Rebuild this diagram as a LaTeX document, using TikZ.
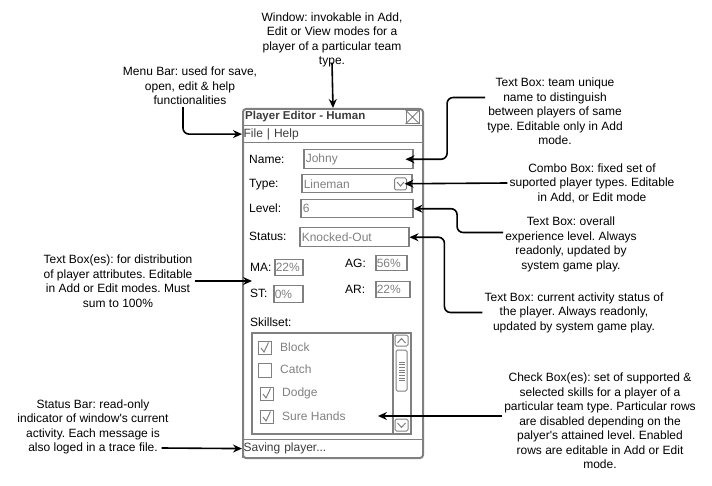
\documentclass[tikz,border=0pt]{standalone}
\usepackage{fontspec}
\setmainfont{Liberation Sans}
\usetikzlibrary{arrows.meta, positioning}
\definecolor{wgray}{RGB}{128,128,128}
\definecolor{wdark}{RGB}{60,60,60}
\frenchspacing
\tikzstyle{note} = [align=center, font=\fontsize{12}{14.5}\selectfont, inner sep=2pt]
\tikzstyle{field} = [rectangle, draw=wgray, line width=1.5pt, anchor=north west, align=left, text=wgray, inner sep=2pt, font=\fontsize{12}{14}\selectfont]
\tikzstyle{btn} = [rectangle, rounded corners=1.5pt, draw=wgray, line width=1pt, inner sep=0pt]
\tikzstyle{tick} = [rectangle, draw=wgray, line width=1pt, inner sep=0pt, anchor=north west, minimum size=13pt]
\tikzstyle{wlabel} = [anchor=west, inner sep=0pt, font=\fontsize{12}{14}\selectfont]
\tikzstyle{arrow} = [line width=1.6pt, ->, >={Stealth[length=9pt, width=8pt, inset=3pt]}]

\begin{document}
\begin{tikzpicture}[x=1pt, y=-1pt]
\useasboundingbox (0,0) rectangle (712,486);

% window frame
\node (win) [rectangle, rounded corners=3pt, draw=wgray, line width=2pt, anchor=north west,
  minimum width=180pt, minimum height=349pt, inner sep=0pt] at (242,108) {};
\node (title) [wlabel, font=\fontsize{11.5}{14}\selectfont\bfseries, text=wdark] at (245,116.5) {Player Editor - Human};
\node (closebtn) [btn, rounded corners=0pt, minimum size=13pt] at (412.5,117) {};
\draw [wgray, line width=1pt] (closebtn.north west) -- (closebtn.south east)
  (closebtn.north east) -- (closebtn.south west);
\node (menu) [field, line width=1.2pt, text=wdark, inner sep=1pt, text width=178pt, minimum height=17pt] at (242,125) {File | Help};

% fields
\node (namelab) [wlabel] at (249,159) {Name:};
\node (namebox) [field, text width=105pt, minimum height=19pt] at (303,149) {Johny};
\node (typelab) [wlabel] at (249,184.5) {Type:};
\node (typebox) [field, text width=106pt, minimum height=18pt] at (301,174) {Lineman};
\node (typedrop) [btn, minimum size=12pt] at (400.5,184) {};
\draw [wgray, line width=1pt] (397,182) -- (400.5,186) -- (404,182);
\node (levellab) [wlabel] at (249,208.5) {Level:};
\node (levelbox) [field, text width=108pt, minimum height=18pt] at (300,199) {6};
\node (statuslab) [wlabel] at (249,236.5) {Status:};
\node (statusbox) [field, text width=105pt, minimum height=19pt] at (299,227) {Knocked-Out};

% attributes
\node (malab) [wlabel] at (250,267.5) {MA:};
\node (mabox) [field, inner sep=1pt, text width=26pt, minimum height=16pt] at (274,259) {22\%};
\node (aglab) [wlabel] at (345,263.5) {AG:};
\node (agbox) [field, inner sep=1pt, text width=29pt, minimum height=15pt] at (375,255) {56\%};
\node (stlab) [wlabel] at (250,293.5) {ST:};
\node (stbox) [field, inner sep=1pt, text width=27pt, minimum height=17pt] at (273,285) {0\%};
\node (arlab) [wlabel] at (345,289.5) {AR:};
\node (arbox) [field, inner sep=1pt, text width=32pt, minimum height=16pt] at (375,281) {22\%};

% skill list
\node (skilllab) [wlabel] at (250,322.5) {Skillset:};
\node (skillbox) [field, text width=155pt, minimum height=101pt] at (251,332) {};
\draw [wgray, line width=1.2pt] (393,332) -- (393,433);
\node (scrup) [btn, minimum width=13pt, minimum height=11pt] at (401.5,340.5) {};
\draw [wgray, line width=1pt] (397.5,343) -- (401.5,338.5) -- (405.5,343);
\node (scrthumb) [btn, minimum width=11pt, minimum height=41pt] at (401.5,370.5) {};
\draw [wgray, line width=0.9pt] (398.5,362) -- (404.5,362) (398.5,364.7) -- (404.5,364.7)
  (398.5,367.4) -- (404.5,367.4) (398.5,370.1) -- (404.5,370.1) (398.5,372.8) -- (404.5,372.8)
  (398.5,375.5) -- (404.5,375.5) (398.5,378.2) -- (404.5,378.2) (398.5,380.9) -- (404.5,380.9);
\node (scrdown) [btn, minimum width=13pt, minimum height=12pt] at (401.5,425) {};
\draw [wgray, line width=1pt] (397.5,423) -- (401.5,427.5) -- (405.5,423);

\node (blockbox) [tick] at (258,341) {};
\draw [wgray, line width=1pt] (261,348) -- (264,352) -- (268.5,342.5);
\node (blocklab) [wlabel, text=wgray] at (280,347.5) {Block};
\node (catchbox) [tick, minimum height=14pt] at (258,363) {};
\node (catchlab) [wlabel, text=wgray] at (280,369.5) {Catch};
\node (dodgebox) [tick] at (260,387) {};
\draw [wgray, line width=1pt] (263,394) -- (266,398) -- (270.5,388.5);
\node (dodgelab) [wlabel, text=wgray] at (282,393.5) {Dodge};
\node (surebox) [tick] at (260,410) {};
\draw [wgray, line width=1pt] (263,417) -- (266,421) -- (270.5,411.5);
\node (surelab) [wlabel, text=wgray] at (282,416.5) {Sure Hands};

% status bar
\node (statusbar) [field, line width=1.2pt, text=wdark, inner sep=1pt, text width=178pt, minimum height=18pt] at (242,439) {Saving player...};

% notes
\node (winnote) [note] at (332,40) {Window: invokable in Add,\\Edit or View modes for a\\player of a particular team\\type.};
\node (menunote) [note] at (190,86) {Menu Bar: used for save,\\open, edit \& help\\functionalities};
\node (namenote) [note] at (555,111.5) {Text Box: team unique\\name to distinguish\\between players of same\\type. Editable only in Add\\mode.};
\node (combonote) [note] at (592,183) {Combo Box: fixed set of\\suported player types. Editable\\in Add, or Edit mode};
\node (levelnote) [note] at (571,244.5) {Text Box: overall\\experience level. Always\\readonly, updated by\\system game play.};
\node (statusnote) [note] at (574,312.5) {Text Box: current activity status of\\the player. Always readonly,\\updated by system game play.};
\node (attrnote) [note] at (118,281) {Text Box(es): for distribution\\of player attributes. Editable\\in Add or Edit modes. Must\\sum to 100\%};
\node (sbnote) [note] at (93,427) {Status Bar: read-only\\indicator of window\textquotesingle s current\\activity. Each message is\\also loged in a trace file.};
\node (checknote) [note] at (600,421) {Check Box(es): set of supported \&\\selected skills for a player of a\\particular team type. Particular rows\\are disabled depending on the\\palyer\textquotesingle s attained level. Enabled\\rows are editable in Add or Edit\\mode.};

\coordinate (attrtip) at (252,281);
\coordinate (skilltip) at (378,416);

\draw [arrow] ([yshift=7pt]winnote.south) -- (win.north);
\draw [arrow, rounded corners=6pt] ([xshift=-7pt]menunote.south) |- (menu.west);
\draw [arrow, rounded corners=6pt] ([yshift=14pt]namenote.west) -- ++(-38,0) |- ([xshift=-8pt]namebox.east);
\draw [arrow] (combonote.west) -- ([xshift=-8pt]typebox.east);
\draw [arrow, rounded corners=6pt] ([yshift=12pt]levelnote.west) -- ++(-46,0) |- (levelbox.east);
\draw [arrow, rounded corners=6pt] (statusnote.west) -- ++(-38,0) |- (statusbox.east);
\draw [arrow] (attrnote.east) -- (attrtip);
\draw [arrow] ([yshift=5pt]checknote.west) -- (skilltip);
\draw [arrow] ([xshift=-9pt, yshift=-21pt]sbnote.east) -- (statusbar.west);

\end{tikzpicture}
\end{document}
